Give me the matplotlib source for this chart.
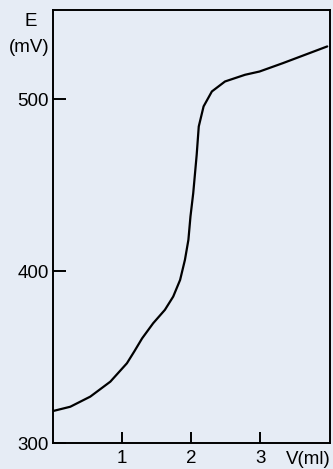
import matplotlib
matplotlib.use("Agg")
import matplotlib.pyplot as plt

volume_ml = [0.0, 0.25, 0.54, 0.83, 1.07, 1.18, 1.29, 1.45, 1.62, 1.74, 1.84, 1.91,
             1.96, 1.99, 2.03, 2.08, 2.11, 2.18, 2.30, 2.49, 2.78, 2.99, 3.33, 3.97]
potential_mv = [318.6, 321.1, 327.0, 335.7, 346.4, 353.5, 360.9, 369.7, 377.5, 385.2,
                394.9, 406.6, 418.2, 431.8, 445.4, 467.7, 484.2, 495.9, 504.6, 510.4,
                514.3, 516.2, 521.1, 530.8]
x_ticks = [1, 2, 3]
y_ticks = [300, 400, 500]

plt.rcParams['font.family'] = ['Liberation Sans', 'DejaVu Sans']
bg = '#e6ecf5'
W, H = 333, 469
fig = plt.figure(figsize=(W / 100, H / 100), dpi=100, facecolor=bg)
ax = fig.add_axes([53 / W, 1 - 443 / H, (330 - 53) / W, (443 - 10) / H])
ax.set_facecolor(bg)
ax.plot(volume_ml, potential_mv, color='black', lw=1.6,
        solid_capstyle='round', solid_joinstyle='round')
ax.set_xlim(0, 4.01)
ax.set_ylim(300, 552)
ax.set_xticks(x_ticks)
ax.set_yticks(y_ticks)
ax.set_xticklabels([str(t) for t in x_ticks])
ax.set_yticklabels([str(t) for t in y_ticks])
for s in ax.spines.values():
    s.set_linewidth(1.4)
ax.tick_params(axis='x', direction='in', length=8, width=1.4, pad=5, labelsize=13.5)
ax.tick_params(axis='y', direction='in', length=9, width=1.4, pad=3, labelsize=13.5)

fig.text(31 / W, 1 - 21.5 / H, 'E', ha='center', va='center', fontsize=13.5)
fig.text(29 / W, 1 - 47 / H, '(mV)', ha='center', va='center', fontsize=13.5)
fig.text(308 / W, 1 - 459 / H, 'V(ml)', ha='center', va='center', fontsize=13.5)

fig.savefig('out.png', dpi=100, facecolor=bg)
